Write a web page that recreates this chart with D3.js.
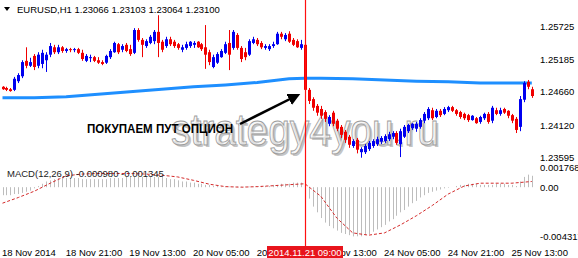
<!DOCTYPE html>
<html>
<head>
<meta charset="utf-8">
<script src="https://cdn.jsdelivr.net/npm/d3@7"></script>
<style>
  body { margin: 0; background: #fff; }
  text { font-family: "Liberation Sans", Arial, sans-serif; }
</style>
</head>
<body>
<div id="chart"></div>
<script>
// EURUSD H1 candles, 18 Nov 05:00 .. 25 Nov 18:00 (one value per bar)
var open = [
  1.2474,1.2472,1.2470,1.2469,1.2483,1.2491,1.2516,1.2508,1.2524,1.2508,
  1.2511,1.2517,1.2526,1.2538,1.2530,1.2538,1.2532,1.2535,1.2534,1.2535,
  1.2529,1.2516,1.2521,1.2522,1.2517,1.2514,1.2513,1.2522,1.2530,1.2543,
  1.2534,1.2542,1.2535,1.2529,1.2566,1.2550,1.2540,1.2545,1.2548,1.2563,
  1.2547,1.2540,1.2551,1.2547,1.2543,1.2534,1.2537,1.2540,1.2542,1.2547,
  1.2543,1.2538,1.2530,1.2506,1.2513,1.2522,1.2529,1.2545,1.2537,1.2558,
  1.2537,1.2530,1.2526,1.2545,1.2550,1.2545,1.2537,1.2535,1.2540,1.2543,
  1.2560,1.2551,1.2560,1.2550,1.2548,1.2537,1.2542,1.2469,1.2454,1.2443,
  1.2438,1.2433,1.2414,1.2432,1.2419,1.2409,1.2401,1.2393,1.2378,1.2388,
  1.2368,1.2368,1.2373,1.2378,1.2381,1.2385,1.2386,1.2389,1.2393,1.2399,
  1.2381,1.2393,1.2402,1.2407,1.2406,1.2409,1.2419,1.2423,1.2436,1.2425,
  1.2435,1.2430,1.2436,1.2441,1.2436,1.2433,1.2430,1.2428,1.2420,1.2423,
  1.2417,1.2423,1.2430,1.2419,1.2436,1.2430,1.2438,1.2435,1.2428,1.2422,
  1.2409,1.2453,1.2482,1.2470
];
var high = [
  1.2475,1.2474,1.2472,1.2490,1.2496,1.2517,1.2538,1.2521,1.2527,1.2530,
  1.2534,1.2530,1.2545,1.2542,1.2542,1.2540,1.2537,1.2537,1.2537,1.2537,
  1.2534,1.2527,1.2526,1.2524,1.2522,1.2517,1.2526,1.2535,1.2547,1.2545,
  1.2543,1.2545,1.2542,1.2569,1.2569,1.2553,1.2551,1.2558,1.2566,1.2590,
  1.2550,1.2555,1.2555,1.2550,1.2545,1.2542,1.2547,1.2548,1.2548,1.2548,
  1.2545,1.2574,1.2534,1.2526,1.2530,1.2535,1.2547,1.2566,1.2566,1.2561,
  1.2540,1.2537,1.2551,1.2555,1.2553,1.2548,1.2543,1.2543,1.2547,1.2563,
  1.2563,1.2561,1.2564,1.2553,1.2551,1.2550,1.2566,1.2472,1.2457,1.2446,
  1.2443,1.2436,1.2428,1.2435,1.2422,1.2412,1.2404,1.2396,1.2389,1.2391,
  1.2376,1.2381,1.2386,1.2389,1.2393,1.2394,1.2397,1.2401,1.2402,1.2402,
  1.2406,1.2412,1.2414,1.2415,1.2417,1.2423,1.2433,1.2441,1.2440,1.2438,
  1.2438,1.2441,1.2443,1.2443,1.2438,1.2435,1.2432,1.2430,1.2428,1.2425,
  1.2427,1.2432,1.2433,1.2443,1.2440,1.2440,1.2440,1.2436,1.2430,1.2425,
  1.2459,1.2483,1.2485,1.2474
];
var low = [
  1.2469,1.2467,1.2466,1.2467,1.2480,1.2488,1.2504,1.2506,1.2501,1.2504,
  1.2504,1.2498,1.2522,1.2527,1.2527,1.2529,1.2529,1.2530,1.2530,1.2527,
  1.2516,1.2514,1.2514,1.2514,1.2511,1.2509,1.2511,1.2519,1.2529,1.2527,
  1.2530,1.2530,1.2524,1.2527,1.2547,1.2522,1.2537,1.2543,1.2543,1.2522,
  1.2530,1.2537,1.2540,1.2537,1.2534,1.2530,1.2534,1.2537,1.2537,1.2537,
  1.2532,1.2503,1.2509,1.2504,1.2511,1.2521,1.2527,1.2501,1.2534,1.2534,
  1.2514,1.2517,1.2524,1.2543,1.2540,1.2535,1.2534,1.2532,1.2537,1.2542,
  1.2551,1.2548,1.2545,1.2540,1.2537,1.2534,1.2466,1.2446,1.2435,1.2427,
  1.2422,1.2417,1.2410,1.2410,1.2402,1.2391,1.2383,1.2375,1.2375,1.2366,
  1.2359,1.2365,1.2370,1.2375,1.2378,1.2381,1.2383,1.2386,1.2389,1.2380,
  1.2360,1.2391,1.2399,1.2404,1.2401,1.2406,1.2415,1.2420,1.2420,1.2423,
  1.2425,1.2428,1.2433,1.2433,1.2427,1.2422,1.2420,1.2417,1.2419,1.2414,
  1.2414,1.2420,1.2414,1.2415,1.2428,1.2427,1.2430,1.2423,1.2415,1.2399,
  1.2402,1.2449,1.2470,1.2456
];
var close = [
  1.2470,1.2469,1.2467,1.2487,1.2493,1.2514,1.2508,1.2514,1.2506,1.2526,
  1.2529,1.2526,1.2540,1.2530,1.2538,1.2532,1.2535,1.2534,1.2535,1.2529,
  1.2519,1.2524,1.2522,1.2516,1.2513,1.2511,1.2524,1.2532,1.2545,1.2530,
  1.2540,1.2532,1.2527,1.2566,1.2550,1.2542,1.2548,1.2555,1.2563,1.2545,
  1.2534,1.2551,1.2543,1.2540,1.2537,1.2538,1.2543,1.2547,1.2545,1.2538,
  1.2535,1.2526,1.2514,1.2522,1.2527,1.2532,1.2543,1.2526,1.2563,1.2537,
  1.2519,1.2522,1.2548,1.2551,1.2543,1.2538,1.2540,1.2540,1.2543,1.2560,
  1.2555,1.2558,1.2547,1.2542,1.2538,1.2543,1.2469,1.2451,1.2440,1.2432,
  1.2427,1.2422,1.2425,1.2414,1.2406,1.2396,1.2388,1.2380,1.2386,1.2372,
  1.2373,1.2378,1.2383,1.2386,1.2389,1.2391,1.2394,1.2397,1.2399,1.2383,
  1.2402,1.2409,1.2412,1.2414,1.2414,1.2420,1.2430,1.2438,1.2423,1.2435,
  1.2428,1.2438,1.2441,1.2435,1.2430,1.2425,1.2423,1.2420,1.2427,1.2415,
  1.2425,1.2430,1.2417,1.2440,1.2430,1.2436,1.2432,1.2427,1.2419,1.2404,
  1.2454,1.2480,1.2474,1.2459
];

// moving average (thick blue line), read every few bars
var maIdx = [0, 8, 16, 24, 32, 40, 48, 56, 64, 72, 76, 80, 88, 96, 104, 112, 120, 128, 133];
var maVal = [1.2456, 1.2456, 1.2458, 1.2462, 1.2466, 1.2470, 1.2474, 1.2477, 1.2481, 1.2487,
             1.2488, 1.2488, 1.2487, 1.2485, 1.2483, 1.2482, 1.2480, 1.2480, 1.2480];

// MACD(12,26,9) main histogram, one value per bar
var macd = [
  -0.0007,-0.0007,-0.0007,-0.0006,-0.0006,-0.0005,-0.0004,-0.0003,-0.0001,
  0.0001,0.0003,0.0005,0.0006,0.0007,0.0008,0.0008,0.0008,
  0.0008,0.0008,0.0008,0.0007,0.0007,0.0007,0.0007,0.0007,0.0007,0.0007,0.0008,0.0008,0.0008,0.0008,
  0.0009,0.0009,0.0009,0.0009,0.0009,0.0009,0.0009,0.0009,0.0009,0.0009,
  0.0008,0.0007,0.0007,0.0006,0.0005,0.0005,0.0004,0.0004,0.0003,0.0003,
  0.0002,0.0002,0.0001,0.0001,0.00005,0.00005,
  0.00005,0.00005,0.00005,0.00005,0.00005,0.00005,0.00005,0.00005,0.0001,0.0001,
  0.0001,0.0002,0.0002,0.0003,0.0003,0.0003,0.0004,0.0004,0.0004,
  0.0003,
  -0.0010,-0.0017,-0.0022,-0.0027,-0.0031,-0.0034,-0.0036,-0.0038,-0.0040,-0.0041,
  -0.0042,-0.00431,-0.0043,-0.0043,-0.0042,-0.0041,-0.0039,-0.0037,-0.0035,-0.0033,
  -0.0030,-0.0028,-0.0025,-0.0022,-0.0020,-0.0017,-0.0014,-0.0012,-0.0009,-0.0007,
  -0.0005,-0.0004,-0.0003,-0.0002,-0.0001,-0.00005,0,
  0.0001,0.0002,0.0002,0.0003,0.0003,0.0003,0.0002,0.0002,0.0002,0.0002,0.0003,0.0003,0.0003,0.0002,0.0002,
  0.0001,0.0005,0.0009,0.0011,0.0010
];
// signal line (red dashed)
var sigIdx = [0, 4, 8, 12, 16, 20, 24, 28, 32, 36, 40, 44, 48, 52, 56, 60, 64, 68, 72, 76,
              80, 84, 88, 92, 96, 100, 104, 108, 112, 116, 120, 124, 128, 133];
var sigVal = [-0.0014, -0.0009, -0.00035, 0.00035, 0.0010, 0.00115, 0.0012, 0.0012, 0.0012, 0.00115,
              0.00105, 0.0009, 0.0006, 0.00026, 0.00005, 0, 0.00005, 0.00013, 0.00022, 0.0003,
              -0.0008, -0.0027, -0.0040, -0.0042, -0.0040, -0.0033, -0.0025, -0.0016, -0.0006, 0.0001,
              0.00035, 0.00035, 0.00035, 0.0005];

var priceTicks = [1.25725, 1.25185, 1.24660, 1.24120, 1.23595];
var macdTicks = [0.001768, 0, -0.004317];
var macdTickLabels = ["0.001768", "0.00", "-0.004317"];
var timeIdx = [0, 16, 32, 48, 64, 80, 96, 112, 128];
var timeLabels = ["18 Nov 2014", "18 Nov 21:00", "19 Nov 13:00", "20 Nov 05:00", "20 Nov 21:00",
                  "21 Nov 13:00", "24 Nov 05:00", "24 Nov 21:00", "25 Nov 13:00"];
var markIdx = 76, markLabel = "2014.11.21 09:00";

var width = 578, height = 258;
var svg = d3.select("#chart").append("svg")
  .attr("width", width)
  .attr("height", height);

var x = d3.scaleLinear().domain([0, open.length - 1]).range([2.5, 531.8]);
var y = d3.scaleLinear().domain([1.23595, 1.25725]).range([157.4, 26]);
var ym = d3.scaleLinear().domain([-0.004317, 0.001768]).range([236.5, 167]);
var px = function(i) { return Math.round(x(i)); };

// watermark
var wm = svg.append("g").attr("class", "watermark");
wm.append("text")
  .attr("x", 173).attr("y", 147)
  .attr("textLength", 268).attr("lengthAdjust", "spacingAndGlyphs")
  .style("font-size", "44px").style("fill", "#8c8c8c").style("opacity", 0.5)
  .text("strategy4you.ru");
wm.append("text")
  .attr("x", 171).attr("y", 145)
  .attr("textLength", 268).attr("lengthAdjust", "spacingAndGlyphs")
  .style("font-size", "44px").style("fill", "#f4f4f4").style("fill-opacity", 0.6)
  .style("stroke", "#9c9c9c").style("stroke-width", 0.9)
  .text("strategy4you.ru");

// moving average
svg.append("path")
  .datum(maIdx)
  .attr("fill", "none")
  .attr("stroke", "#1e8fff")
  .attr("stroke-width", 3)
  .attr("d", d3.line().x(function(d) { return x(d); }).y(function(d, k) { return y(maVal[k]); }));

// candles
var bars = svg.append("g").selectAll("g")
  .data(d3.range(open.length))
  .enter().append("g")
  .attr("fill", function(i) { return close[i] >= open[i] ? "#0000f0" : "#f00000"; })
  .attr("stroke", function(i) { return close[i] >= open[i] ? "#0000f0" : "#f00000"; });
bars.append("line")
  .attr("x1", function(i) { return px(i) + 0.5; })
  .attr("x2", function(i) { return px(i) + 0.5; })
  .attr("y1", function(i) { return y(high[i]); })
  .attr("y2", function(i) { return y(low[i]); });
bars.append("rect")
  .attr("stroke", "none")
  .attr("x", function(i) { return px(i) - 1; })
  .attr("width", 3)
  .attr("y", function(i) { return y(Math.max(open[i], close[i])); })
  .attr("height", function(i) { return Math.max(1, Math.abs(y(open[i]) - y(close[i]))); });

// MACD histogram
svg.append("g").selectAll("line")
  .data(macd)
  .enter().append("line")
  .attr("x1", function(d, i) { return px(i) + 0.5; })
  .attr("x2", function(d, i) { return px(i) + 0.5; })
  .attr("y1", ym(0))
  .attr("y2", function(d) { return ym(d); })
  .attr("stroke", "#bdbdbd")
  .attr("stroke-width", 1);

// MACD signal
svg.append("path")
  .datum(sigIdx)
  .attr("fill", "none")
  .attr("stroke", "#d42a2a")
  .attr("stroke-width", 1)
  .attr("stroke-dasharray", "3,2")
  .attr("d", d3.line().x(function(d) { return x(d); }).y(function(d, k) { return ym(sigVal[k]); }));

// header
svg.append("path").attr("d", "M4,7L10,7L7,11Z").attr("fill", "#000");
svg.append("text")
  .attr("x", 17).attr("y", 13)
  .style("font-size", "9.5px").style("fill", "#000")
  .text("EURUSD,H1  1.23066 1.23103 1.23064 1.23100");
svg.append("text")
  .attr("x", 7).attr("y", 177)
  .style("font-size", "9.5px").style("fill", "#222")
  .text("MACD(12,26,9) -0.000980 -0.001345");

// right price axis
var priceAxis = svg.append("g")
  .attr("transform", "translate(536,0)")
  .call(d3.axisRight(y).tickValues(priceTicks).tickSize(0).tickFormat(d3.format(".5f")));
var macdAxis = svg.append("g")
  .attr("transform", "translate(536,0)")
  .call(d3.axisRight(ym).tickValues(macdTicks).tickSize(0)
    .tickFormat(function(d, k) { return macdTickLabels[k]; }));
[priceAxis, macdAxis].forEach(function(a) {
  a.select(".domain").remove();
  a.selectAll("text")
    .attr("x", 4).attr("dy", "0.32em")
    .style("font-family", "Liberation Sans, Arial, sans-serif")
    .style("font-size", "9.5px").style("fill", "#000");
});

// time axis
var timeAxis = svg.append("g")
  .attr("transform", "translate(0,247)")
  .call(d3.axisBottom(x).tickValues(timeIdx).tickSize(0)
    .tickFormat(function(d, k) { return timeLabels[k]; }));
timeAxis.select(".domain").remove();
timeAxis.selectAll("text")
  .attr("y", 8.5).attr("dy", 0).attr("dx", -1)
  .style("text-anchor", "start")
  .style("font-family", "Liberation Sans, Arial, sans-serif")
  .style("font-size", "9.5px").style("fill", "#000");

// vertical marker and its date label
svg.append("line")
  .attr("x1", px(markIdx) + 0.5).attr("x2", px(markIdx) + 0.5)
  .attr("y1", 0).attr("y2", 246)
  .attr("stroke", "#ff1010").attr("stroke-width", 1.2);
svg.append("rect")
  .attr("x", px(markIdx) - 38).attr("y", 246)
  .attr("width", 76).attr("height", 12)
  .attr("fill", "#e8141c");
svg.append("text")
  .attr("x", px(markIdx)).attr("y", 255.5)
  .attr("text-anchor", "middle")
  .style("font-size", "9.5px").style("fill", "#fff")
  .text(markLabel);

// annotation arrow and caption
svg.append("defs").append("marker")
  .attr("id", "head").attr("viewBox", "0 0 10 10")
  .attr("refX", 8).attr("refY", 5)
  .attr("markerWidth", 5).attr("markerHeight", 5)
  .attr("orient", "auto")
  .append("path").attr("d", "M0,0L10,5L0,10Z").attr("fill", "#000");
svg.append("line")
  .attr("x1", 240).attr("y1", 124).attr("x2", 298).attr("y2", 95)
  .attr("stroke", "#000").attr("stroke-width", 2.5)
  .attr("marker-end", "url(#head)");
svg.append("text")
  .attr("x", 87).attr("y", 133)
  .attr("textLength", 146).attr("lengthAdjust", "spacingAndGlyphs")
  .style("font-size", "13px").style("font-weight", "bold").style("fill", "#000")
  .text("ПОКУПАЕМ ПУТ ОПЦИОН");
</script>
</body>
</html>
